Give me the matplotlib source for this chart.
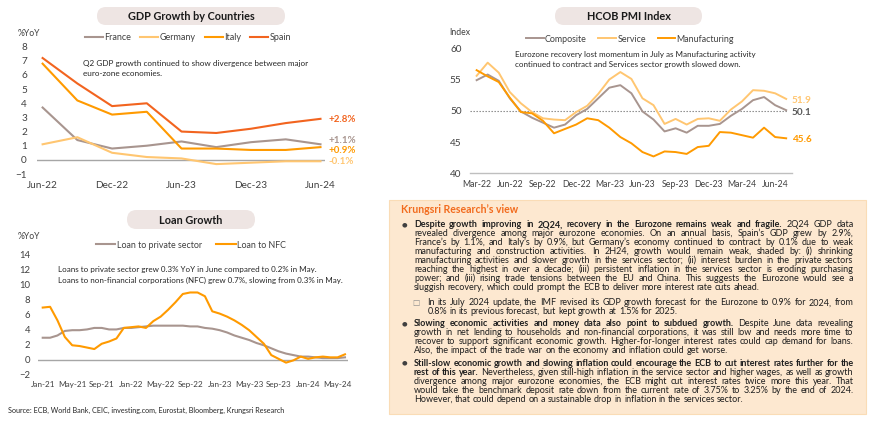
import matplotlib
matplotlib.use("Agg")
import matplotlib.pyplot as plt
from matplotlib.patches import FancyBboxPatch, Rectangle

plt.rcParams['font.family'] = ['Lato', 'DejaVu Sans']

# ---- data ----
gdp_quarters = ['Jun-22', 'Sep-22', 'Dec-22', 'Mar-23', 'Jun-23', 'Sep-23', 'Dec-23', 'Mar-24', 'Jun-24']
gdp_france = [3.7, 1.4, 0.8, 1.0, 1.3, 0.9, 1.25, 1.45, 1.1]
gdp_germany = [1.1, 1.6, 0.5, 0.2, 0.1, -0.3, -0.2, -0.1, -0.1]
gdp_italy = [6.8, 4.2, 3.2, 3.4, 0.8, 0.8, 0.7, 0.7, 0.9]
gdp_spain = [7.2, 5.4, 3.8, 4.0, 2.0, 1.9, 2.2, 2.6, 2.9]
gdp_end_labels = ['+2.8%', '+1.1%', '+0.9%', '-0.1%']

pmi_months = ['Mar-22', 'Apr-22', 'May-22', 'Jun-22', 'Jul-22', 'Aug-22', 'Sep-22', 'Oct-22', 'Nov-22', 'Dec-22',
              'Jan-23', 'Feb-23', 'Mar-23', 'Apr-23', 'May-23', 'Jun-23', 'Jul-23', 'Aug-23', 'Sep-23', 'Oct-23',
              'Nov-23', 'Dec-23', 'Jan-24', 'Feb-24', 'Mar-24', 'Apr-24', 'May-24', 'Jun-24', 'Jul-24']
pmi_composite = [54.9, 55.8, 54.8, 52.0, 49.9, 48.9, 48.1, 47.3, 47.8, 49.3, 50.3, 52.0, 53.7, 54.1, 52.8,
                 49.9, 48.6, 46.7, 47.2, 46.5, 47.6, 47.6, 47.9, 49.2, 50.3, 51.7, 52.2, 50.9, 50.1]
pmi_service = [55.6, 57.7, 56.1, 53.0, 51.2, 49.8, 48.8, 48.6, 48.5, 49.8, 50.8, 52.7, 55.0, 56.2, 55.1,
               52.0, 50.9, 47.9, 48.7, 47.8, 48.7, 48.8, 48.4, 50.2, 51.5, 53.3, 53.2, 52.8, 51.9]
pmi_manufacturing = [56.5, 55.5, 54.6, 52.1, 49.8, 49.6, 48.4, 46.4, 47.1, 47.8, 48.8, 48.5, 47.3, 45.8, 44.8,
                     43.4, 42.7, 43.5, 43.4, 43.1, 44.2, 44.4, 46.6, 46.5, 46.1, 45.7, 47.3, 45.8, 45.6]

loan_months = ['Jan-21', 'Feb-21', 'Mar-21', 'Apr-21', 'May-21', 'Jun-21', 'Jul-21', 'Aug-21', 'Sep-21', 'Oct-21',
               'Nov-21', 'Dec-21', 'Jan-22', 'Feb-22', 'Mar-22', 'Apr-22', 'May-22', 'Jun-22', 'Jul-22', 'Aug-22',
               'Sep-22', 'Oct-22', 'Nov-22', 'Dec-22', 'Jan-23', 'Feb-23', 'Mar-23', 'Apr-23', 'May-23', 'Jun-23',
               'Jul-23', 'Aug-23', 'Sep-23', 'Oct-23', 'Nov-23', 'Dec-23', 'Jan-24', 'Feb-24', 'Mar-24', 'Apr-24',
               'May-24', 'Jun-24']
loan_private = [2.9, 2.9, 3.2, 3.8, 3.9, 3.9, 4.0, 4.2, 4.2, 4.0, 4.0, 4.2, 4.2, 4.3, 4.4, 4.5, 4.5, 4.5, 4.5, 4.5,
                4.4, 4.4, 4.2, 4.1, 3.9, 3.6, 3.2, 2.9, 2.6, 2.2, 1.9, 1.5, 1.1, 0.8, 0.6, 0.4, 0.4, 0.3, 0.2, 0.2,
                0.2, 0.3]
loan_nfc = [6.9, 7.0, 5.2, 3.0, 1.9, 1.8, 1.6, 1.4, 2.1, 2.4, 2.8, 4.2, 4.3, 4.4, 4.2, 5.1, 5.7, 6.6, 7.6, 8.7,
            8.9, 8.9, 8.4, 6.4, 6.1, 5.7, 5.2, 4.6, 3.9, 3.0, 2.1, 0.6, 0.1, -0.4, -0.1, 0.4, 0.1, 0.3, 0.4, 0.3,
            0.3, 0.7]

# ---- colours ----
GREY = '#A8958F'
LIGHT = '#FFC671'
ORANGE = '#FF9A00'
RED = '#F2641F'
TXT = '#404040'

W, H = 870, 425
fig = plt.figure(figsize=(W / 100, H / 100), dpi=100)

# full-figure overlay in pixel coordinates for boxes and the text block
bg = fig.add_axes([0, 0, 1, 1], zorder=0)
bg.set_xlim(0, W)
bg.set_ylim(H, 0)
bg.axis('off')


def ax_px(x0, y0, x1, y1):
    a = fig.add_axes([x0 / W, 1 - y1 / H, (x1 - x0) / W, (y1 - y0) / H], zorder=1)
    a.patch.set_alpha(0)
    for s in a.spines.values():
        s.set_visible(False)
    a.tick_params(length=0, colors=TXT)
    return a


def title_pill(x0, y0, x1, y1, label):
    bg.add_patch(FancyBboxPatch((x0, y0), x1 - x0, y1 - y0,
                                boxstyle='round,pad=0,rounding_size=%f' % ((y1 - y0) / 2),
                                fc='#EEE5E3', ec='none'))
    bg.text((x0 + x1) / 2, (y0 + y1) / 2 + 0.5, label, ha='center', va='center',
            fontsize=7.8, weight='bold', color='#1A1A1A')


# ================= GDP growth =================
title_pill(97, 7, 285, 25, 'GDP Growth by Countries')
ax1 = ax_px(36.7, 46.7, 325, 174)
x = range(len(gdp_quarters))
ax1.plot(x, gdp_france, color=GREY, lw=1.5, label='France')
ax1.plot(x, gdp_germany, color=LIGHT, lw=1.5, label='Germany')
ax1.plot(x, gdp_italy, color=ORANGE, lw=1.5, label='Italy')
ax1.plot(x, gdp_spain, color=RED, lw=1.5, label='Spain')
ax1.axhline(0, color='#A6A6A6', lw=1, zorder=0)
ax1.set_ylim(-1, 8)
ax1.set_xlim(-0.17, 8.13)
ax1.set_yticks(range(-1, 9))
ax1.set_xticks(list(x)[::2])
ax1.set_xticklabels(gdp_quarters[::2])
ax1.tick_params(axis='y', pad=7, labelsize=7.2)
ax1.tick_params(axis='x', pad=5, labelsize=7.2)
for lab, yy, c in zip(gdp_end_labels, [2.86, 1.39, 0.68, -0.15], [RED, GREY, ORANGE, LIGHT]):
    ax1.text(8.24, yy, lab, color=c, fontsize=7, weight='bold', va='center', ha='left', clip_on=False)
ax1.legend(ncol=4, loc='center', bbox_to_anchor=(188 / W, 1 - 37.5 / H), bbox_transform=fig.transFigure,
           frameon=False, fontsize=6.5, handlelength=2.0, handletextpad=0.15, columnspacing=1.0,
           labelcolor=TXT)
bg.text(18, 33, '%YoY', fontsize=6.2, color=TXT, va='center')
bg.text(83, 63, 'Q2 GDP growth continued to show divergence between major', fontsize=5.9, color='#262626', va='center')
bg.text(83, 73, 'euro-zone economies.', fontsize=5.9, color='#262626', va='center')

# ================= PMI =================
title_pill(555, 7, 702, 25, 'HCOB PMI Index')
ax2 = ax_px(470, 48.3, 791.7, 173.3)
x = range(len(pmi_months))
ax2.plot(x, pmi_composite, color=GREY, lw=1.4, label='Composite')
ax2.plot(x, pmi_service, color=LIGHT, lw=1.4, label='Service')
ax2.plot(x, pmi_manufacturing, color=ORANGE, lw=1.4, label='Manufacturing')
ax2.axhline(50, color='#7F7F7F', lw=0.8, ls=(0, (1.2, 1.5)), xmax=0.985, zorder=0)
ax2.spines['bottom'].set_visible(True)
ax2.spines['bottom'].set_color('#BFBFBF')
ax2.spines['bottom'].set_linewidth(1)
ax2.set_ylim(40, 60)
ax2.set_xlim(-0.6, 28.5)
ax2.set_yticks(range(40, 61, 5))
ax2.set_xticks(list(x)[::3])
ax2.set_xticklabels(pmi_months[::3])
ax2.tick_params(axis='y', pad=6, labelsize=7.2)
ax2.tick_params(axis='x', pad=4.5, labelsize=6.3)
for val, yy, c in zip(['51.9', '50.1', '45.6'], [51.7, 49.7, 45.4], [LIGHT, '#595959', ORANGE]):
    ax2.text(28.5, yy, val, color=c, fontsize=7.2, weight='bold', va='center', ha='left', clip_on=False)
ax2.legend(ncol=3, loc='center', bbox_to_anchor=(630 / W, 1 - 39 / H), bbox_transform=fig.transFigure,
           frameon=False, fontsize=6.4, handlelength=2.0, handletextpad=0.15, columnspacing=1.3,
           labelcolor=TXT)
bg.text(449, 32, 'Index', fontsize=6.2, color=TXT, va='center')
bg.text(515, 54, 'Eurozone recovery lost momentum in July as Manufacturing activity', fontsize=5.8,
        color='#262626', va='center')
bg.text(515, 64.7, 'continued to contract and Services sector growth slowed down.', fontsize=5.8,
        color='#262626', va='center')

# ================= Loan growth =================
title_pill(127, 210, 255, 229, 'Loan Growth')
ax3 = ax_px(38.3, 254, 348.3, 374.7)
x = range(len(loan_months))
ax3.plot(x, loan_private, color=GREY, lw=1.5, label='Loan to private sector')
ax3.plot(x, loan_nfc, color=ORANGE, lw=1.5, label='Loan to NFC')
ax3.axhline(0, color='#A6A6A6', lw=1, zorder=0)
ax3.set_ylim(-2, 14)
ax3.set_xlim(-0.6, 41.45)
ax3.set_yticks(range(-2, 15, 2))
ax3.set_xticks(list(x)[::4])
ax3.set_xticklabels(loan_months[::4])
ax3.tick_params(axis='y', pad=6, labelsize=6.8)
ax3.tick_params(axis='x', pad=4.5, labelsize=5.9)
ax3.legend(ncol=2, loc='center', bbox_to_anchor=(191 / W, 1 - 245 / H), bbox_transform=fig.transFigure,
           frameon=False, fontsize=6.4, handlelength=2.2, handletextpad=0.15, columnspacing=1.6,
           labelcolor=TXT)
bg.text(18, 236, '%YoY', fontsize=6.2, color=TXT, va='center')
bg.text(58.3, 269.3, 'Loans to private sector grew 0.3% YoY in June compared to 0.2% in May.', fontsize=5.8,
        color='#262626', va='center')
bg.text(58.3, 280, 'Loans to non-financial corporations (NFC) grew 0.7%, slowing from 0.3% in May.', fontsize=5.8,
        color='#262626', va='center')
bg.text(8, 410, 'Source: ECB, World Bank, CEIC, investing.com, Eurostat, Bloomberg, Krungsri Research',
        fontsize=5.2, color='#262626', va='center')

# ================= Krungsri Research's view =================
bg.add_patch(Rectangle((389, 199.5), 477, 214, fc='#FDE8D0', ec='#FADCB6', lw=0.8))
bg.text(400.7, 209, 'Krungsri Research\u2019s view', fontsize=7.6, weight='bold', color='#F26B1D', va='center')

para1_bold = 'Despite growth improving in 2Q24, recovery in the Eurozone remains weak and fragile.'
para1 = [
    'Despite growth improving in 2Q24, recovery in the Eurozone remains weak and fragile. 2Q24 GDP data',
    'revealed divergence among major eurozone economies. On an annual basis, Spain\u2019s GDP grew by 2.9%,',
    'France\u2019s by 1.1%, and Italy\u2019s by 0.9%, but Germany\u2019s economy continued to contract by 0.1% due to weak',
    'manufacturing and construction activities. In 2H24, growth would remain weak, shaded by: (i) shrinking',
    'manufacturing activities and slower growth in the services sector; (ii) interest burden in the private sectors',
    'reaching the highest in over a decade; (iii) persistent inflation in the services sector is eroding purchasing',
    'power; and (iii) rising trade tensions between the EU and China. This suggests the Eurozone would see a',
    'sluggish recovery, which could prompt the ECB to deliver more interest rate cuts ahead.',
]
sub1 = [
    'In its July 2024 update, the IMF revised its GDP growth forecast for the Eurozone to 0.9% for 2024, from',
    '0.8% in its previous forecast, but kept growth at 1.5% for 2025.',
]
para2_bold = 'Slowing economic activities and money data also point to subdued growth.'
para2 = [
    'Slowing economic activities and money data also point to subdued growth. Despite June data revealing',
    'growth in net lending to households and non-financial corporations, it was still low and needs more time to',
    'recover to support significant economic growth. Higher-for-longer interest rates could cap demand for loans.',
    'Also, the impact of the trade war on the economy and inflation could get worse.',
]
para3_bold = ('Still-slow economic growth and slowing inflation could encourage the ECB to cut interest rates '
              'further for the rest of this year.')
para3 = [
    'Still-slow economic growth and slowing inflation could encourage the ECB to cut interest rates further for the',
    'rest of this year. Nevertheless, given still-high inflation in the service sector and higher wages, as well as growth',
    'divergence among major eurozone economies, the ECB might cut interest rates twice more this year. That',
    'would take the benchmark deposit rate down from the current rate of 3.75% to 3.25% by the end of 2024.',
    'However, that could depend on a sustainable drop in inflation in the services sector.',
]

BODY = 6.5
renderer = fig.canvas.get_renderer()


def text_w(s, weight):
    t = bg.text(0, 0, s, fontsize=BODY, weight=weight)
    w = t.get_window_extent(renderer).width
    t.remove()
    return w


space_w = text_w('n n', 'normal') - text_w('nn', 'normal')


def justified(lines, bold_head, x0, x1, ys):
    n_bold = len(bold_head.split())
    k = 0
    for i, (line, y) in enumerate(zip(lines, ys)):
        words = line.split()
        weights = []
        for w in words:
            weights.append('bold' if k < n_bold else 'normal')
            k += 1
        widths = [text_w(w, wt) for w, wt in zip(words, weights)]
        last = i == len(lines) - 1
        gap = space_w if last else (x1 - x0 - sum(widths)) / (len(words) - 1)
        gap = max(gap, 0.6 * space_w)
        xx = x0
        for w, wt, ww in zip(words, weights, widths):
            bg.text(xx, y, w, fontsize=BODY, weight=wt, color='#1F1F1F', va='center', ha='left')
            xx += ww + gap


def bullet(x, y):
    bg.text(x, y, '\u25cf', fontsize=4.6, color='#404040', va='center', ha='center', family='DejaVu Sans')


def sub_bullet(x, y):
    bg.text(x, y, '\u25a1', fontsize=5.5, color='#8C8C8C', va='center', ha='center', family='DejaVu Sans')


ys1 = [224.5 + 9 * i for i in range(8)]
bullet(404, ys1[0])
justified(para1, para1_bold, 414, 853.5, ys1)

ys_sub = [302.7, 311.5]
sub_bullet(416, ys_sub[0])
justified(sub1, '', 427.3, 853.5, ys_sub)

ys2 = [323.5 + 9 * i for i in range(4)]
bullet(404, ys2[0])
justified(para2, para2_bold, 414, 853.5, ys2)

ys3 = [363.3 + 9 * i for i in range(5)]
bullet(404, ys3[0])
justified(para3, para3_bold, 414, 853.5, ys3)

fig.savefig('out.png', dpi=100)
